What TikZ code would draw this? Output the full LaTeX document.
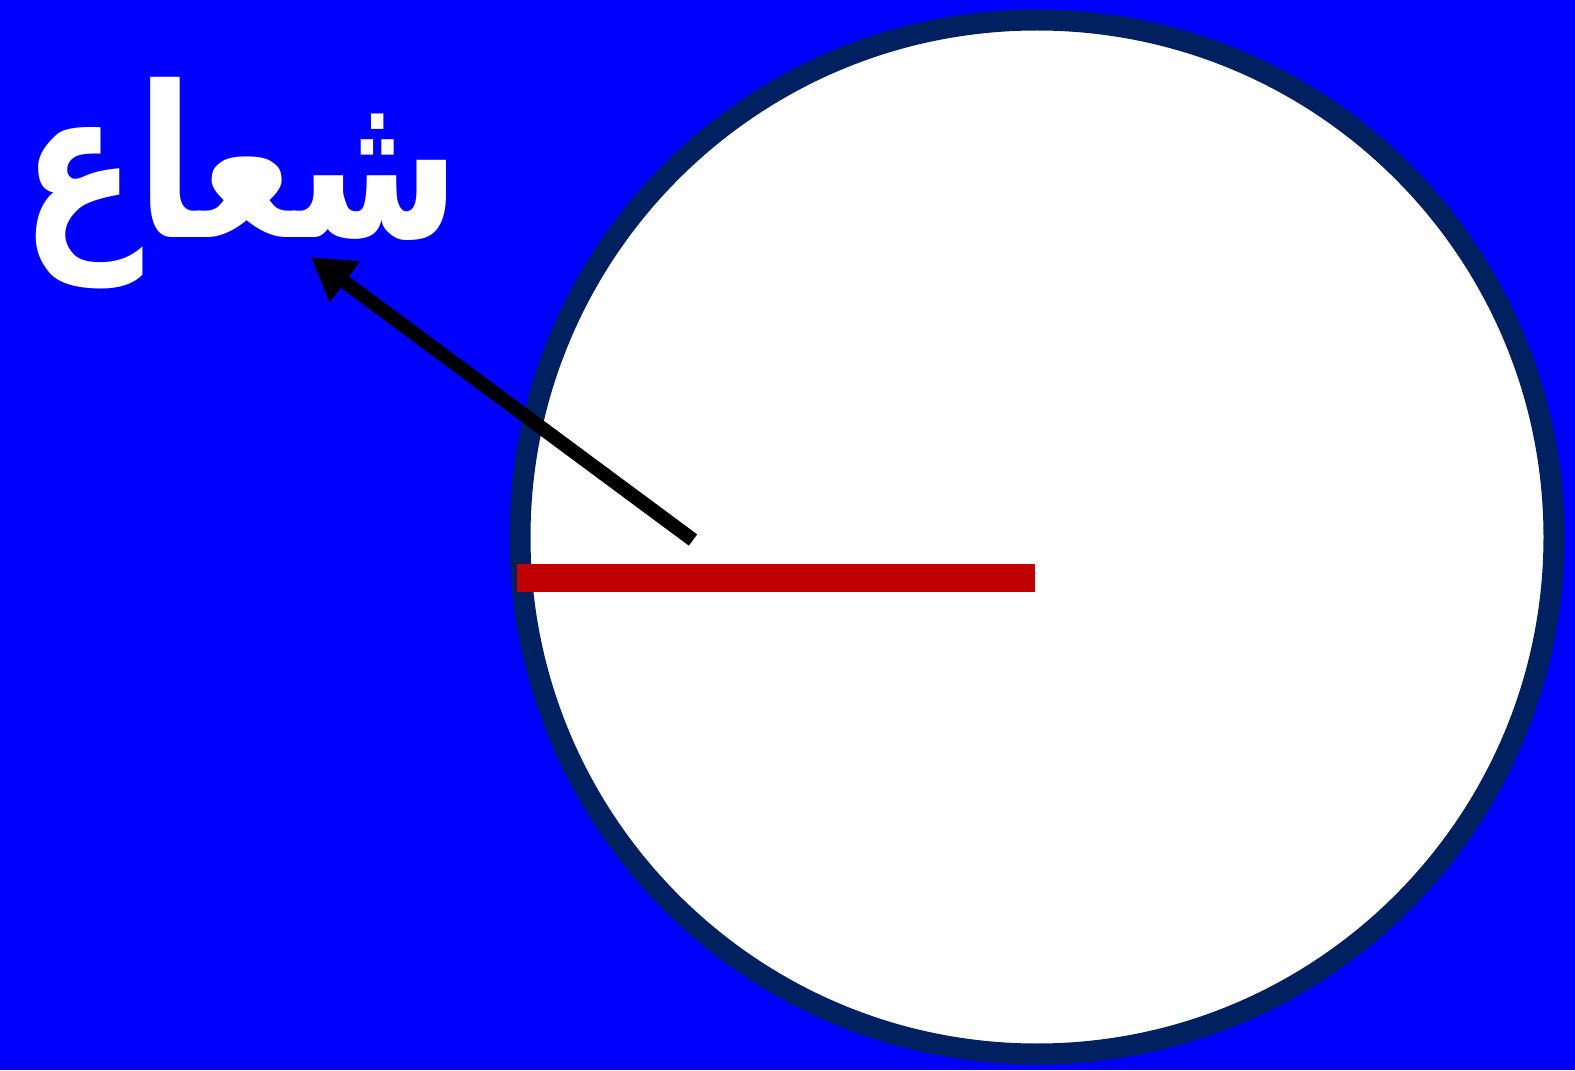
\documentclass[tikz,border=0pt]{standalone}
\usepackage{fontspec}
\usetikzlibrary{arrows.meta}
\TeXXeTstate=1
\newfontfamily\arabicfont[Script=Arabic]{DejaVu Sans}
\definecolor{bgblue}{RGB}{0,0,255}
\definecolor{rimnavy}{RGB}{0,32,96}
\definecolor{radred}{RGB}{192,0,0}

\begin{document}
\begin{tikzpicture}
        \fill[bgblue] (0,0) rectangle (15.75,10.7);
        \useasboundingbox (0,0) rectangle (15.75,10.7);
        % the circle and its radius
        \node[circle,draw=rimnavy,fill=white,line width=2.1mm,minimum size=10.34cm,
              inner sep=0pt] (disc) at (10.37,5.33) {};
        \coordinate (rleft) at (5.17,4.92);
        \coordinate (rcentre) at (10.35,4.92);
        \draw[radred,line width=2.8mm] (rleft) -- (rcentre);
        % label and pointer
        \node[text=white,inner sep=0pt,xscale=0.8,transform shape,
              font=\arabicfont\bfseries\fontsize{60}{70}\selectfont]
              (label) at (2.41,8.87) {\beginR شعاع\endR};
        \coordinate (tail) at (6.93,5.30);
        \coordinate (tip) at (3.11,8.13);
        \draw[-{Triangle[length=4.2mm,width=4.8mm]},line width=1.4mm,black] (tail) -- (tip);
      \end{tikzpicture}
\end{document}
